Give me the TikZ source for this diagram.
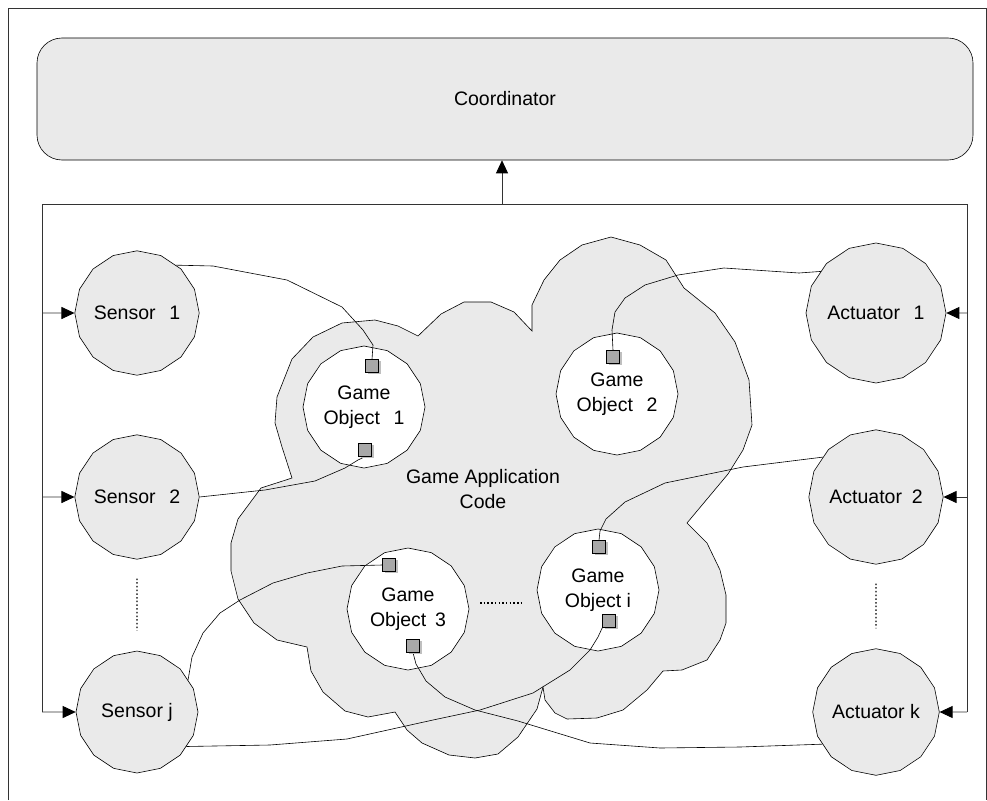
\documentclass[tikz,border=0pt]{standalone}
\usepackage{fontspec}
\setmainfont{Liberation Sans}
\usetikzlibrary{shapes.geometric,arrows.meta,calc,shadows}
\definecolor{fillgray}{HTML}{EAEAEA}
\definecolor{sqgray}{HTML}{A8A8A8}
\begin{document}
\begin{tikzpicture}[x=1pt,y=-1pt,
  lbl/.style={font=\fontsize{19.5}{25}\selectfont, align=center},
  sensbox/.style={draw, fill=fillgray, regular polygon, regular polygon sides=16,
    shape border rotate=11.25, minimum size=122pt, inner sep=0pt, line width=0.6pt, lbl},
  gobox/.style={sensbox, fill=white},
  portspot/.style={minimum size=13pt, inner sep=0pt},
  port/.style={draw, fill=sqgray, minimum size=13pt, inner sep=0pt, line width=0.6pt,
    drop shadow={shadow xshift=2pt, shadow yshift=-1.5pt, fill=black!25, opacity=1}},
  wire/.style={line width=0.6pt},
  bus/.style={line width=0.8pt, draw=black!80},
  busarrow/.style={bus, -{Triangle[length=13pt,width=12pt,fill=black,color=black]}},
  dots/.style={line width=1.2pt, dash pattern=on 1.5pt off 2.2pt}
]
\useasboundingbox (0,0) rectangle (987,800);

% outer frame
\draw[line width=0.8pt, draw=black!80] (8,800) -- (8,8) -- (986,8) -- (986,800);

% coordinator
\node[draw, fill=fillgray, rounded corners=25pt, minimum width=936pt, minimum height=122pt,
  line width=0.6pt, lbl] (coord) at (505,99) {Coordinator};

% cloud: game application code
\draw[fill=fillgray, line width=0.6pt]
 (292,478) -- (282,447) -- (275,423) -- (277,397) -- (292,359) -- (313,337) -- (342,323)
 -- (375,320) -- (398,326) -- (418,336) -- (441,314) -- (464,302) -- (491,302) -- (514,312)
 -- (532,331) -- (532,305) -- (544,280) -- (560,260) -- (582,245) -- (611,237) -- (640,245)
 -- (666,260) -- (684,288) -- (715,313) -- (735,342) -- (749,380) -- (752,425) -- (743,450)
 -- (728,474) -- (687,523) -- (707,543) -- (720,570) -- (726,595) -- (726,623) -- (720,640)
 -- (707,660) -- (682,670) -- (663,671) -- (647,690) -- (623,710) -- (597,718) -- (567,719)
 -- (555,713) -- (545,700) -- (543,687) -- (537,709) -- (518,737) -- (498,754) -- (475,758)
 -- (449,755) -- (422,743) -- (407,730) -- (395,712) -- (368,717) -- (345,711) -- (323,692)
 -- (311,671) -- (307,647) -- (277,640) -- (254,623) -- (238,599) -- (231,571) -- (231,543)
 -- (238,519) -- (261,488) -- cycle;
\node[lbl] (gac) at (483,489) {Game Application\\Code};

% sensors and actuators
\node[sensbox] (s1) at (137,313) {Sensor\hspace{0.7em}1};
\node[sensbox] (s2) at (137,497) {Sensor\hspace{0.7em}2};
\node[sensbox] (sj) at (137,712) {Sensor j};
\node[sensbox] (a1) at (876,313) {Actuator\hspace{0.7em}1};
\node[sensbox] (a2) at (876,497) {Actuator\hspace{0.5em}2};
\node[sensbox] (ak) at (876,712) {Actuator k};

% game objects
\node[gobox] (go1) at (364,407) {Game\\Object\hspace{0.7em}1};
\node[gobox] (go2) at (617,394) {Game\\Object\hspace{0.7em}2};
\node[gobox] (go3) at (408,609) {Game\\Object\hspace{0.45em}3};
\node[gobox] (goi) at (598,590) {Game\\Object i};

% bus
\coordinate (btl) at (42,204);
\coordinate (btr) at (967,204);
\coordinate (bup) at (502,204);
\draw[bus] (btl |- sj) -- (btl) -- (btr) -- (btr |- ak);
\draw[busarrow] (bup) -- (bup |- coord.south);
\draw[busarrow] (btl |- s1) -- (s1.west);
\draw[busarrow] (btl |- s2) -- (s2.west);
\draw[busarrow] (btl |- sj) -- (sj.west);
\draw[busarrow] (btr |- a1) -- (a1.east);
\draw[busarrow] (btr |- a2) -- (a2.east);
\draw[busarrow] (btr |- ak) -- (ak.east);

% ellipses
\draw[dots, shorten <=19pt, shorten >=20pt] (s2.south) -- (sj.north);
\draw[dots, shorten <=19pt, shorten >=20pt] (a2.south) -- (ak.north);
\coordinate (hd1) at (480,603);
\coordinate (hd2) at (523,603);
\draw[dots] (hd1) -- (hd2);

% port positions
\node[portspot] (q1a) at (372,366) {};
\node[portspot] (q1b) at (365,450) {};
\node[portspot] (q2)  at (613,357) {};
\node[portspot] (q3a) at (389,565) {};
\node[portspot] (q3b) at (413,646) {};
\node[portspot] (qia) at (599,547) {};
\node[portspot] (qib) at (609,621) {};

% connectors
\draw[wire] (s1.51) -- (213,266) -- (287,280) -- (342,307) -- (363,330) -- (373,345) -- (q1a.north);
\draw[wire] (s2.0) -- (265,490) -- (315,481) -- (345,468) -- (358,460) -- (q1b.south);
\draw[wire] (a1.143) -- (799,273) -- (724,268) -- (678,275) -- (645,285) -- (625,298)
  -- (615,312) -- (612,330) -- (q2.north);
\draw[wire] (a2.143) -- (743,467) -- (665,483) -- (625,502) -- (606,519) -- (600,531) -- (qia.north);
\draw[wire] (sj.32) -- (192,657) -- (203,633) -- (220,613) -- (240,600) -- (273,583)
  -- (307,573) -- (342,566) -- (q3a.west);
\draw[wire] (sj.-35) -- (270,745) -- (347,739) -- (433,720) -- (480,710) -- (533,693)
  -- (570,670) -- (590,650) -- (598,637) -- (qib.south west);
\draw[wire] (ak.211) -- (740,747) -- (660,748) -- (590,743) -- (518,721) -- (475,710)
  -- (445,697) -- (426,681) -- (416,664) -- (q3b.south);

% ports drawn on top of wires
\foreach \p in {q1a,q1b,q2,q3a,q3b,qia,qib}{
  \node[port] at (\p) {};
}
\end{tikzpicture}
\end{document}
